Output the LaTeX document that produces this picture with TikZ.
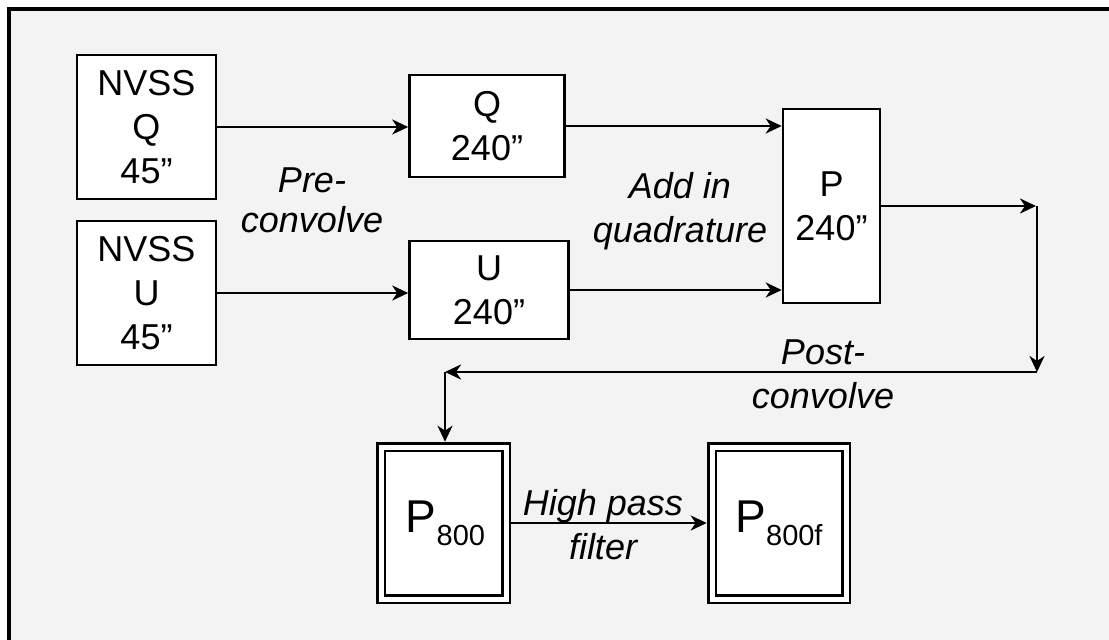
\documentclass[tikz,border=0pt]{standalone}
\usepackage{fontspec}
\setmainfont{Liberation Sans}
\usetikzlibrary{arrows.meta,calc}
\definecolor{bgc}{HTML}{F3F3F3}
\tikzset{
  box/.style={draw, fill=white, line width=2.6pt, inner sep=0pt, align=center,
    font=\fontsize{36}{44}\selectfont},
  dbox/.style={draw, line width=2.6pt, double=white, double distance=5pt, fill=white, inner sep=0pt},
  arr/.style={line width=2.8pt, -{Stealth[length=16pt, width=15pt, inset=5pt]}},
  lbl/.style={inner sep=0pt, align=center, font=\fontsize{36}{44}\selectfont\itshape},
}
\begin{document}
\begin{tikzpicture}[x=1pt, y=-1pt]
\useasboundingbox (0,0) rectangle (1109,640);
\fill[white] (0,0) rectangle (1109,640);
\fill[bgc] (9,9) rectangle (1109,640);
\draw[line width=3.2pt] (9,641) -- (9,9) -- (1110,9);

\node[box, minimum width=139pt, minimum height=144pt] (nq) at (146.5,127) {NVSS\\Q\\45”};
\node[box, minimum width=139pt, minimum height=144pt] (nu) at (146.5,293) {NVSS\\U\\45”};
\node[box, minimum width=155pt, minimum height=102pt] (q) at (487,126) {Q\\240”};
\node[box, minimum width=159pt, minimum height=98pt] (u) at (489,290) {U\\240”};
\node[box, minimum width=97pt, minimum height=194pt] (p) at (831.5,206) {P\\240”};

\node[dbox, minimum width=125pt, minimum height=152pt] (p8) at (443.5,523)
  {\hspace{4pt}\fontsize{46}{50}\selectfont P\raisebox{-13pt}{\fontsize{29}{32}\selectfont 800}};
\node[dbox, minimum width=134pt, minimum height=152pt] (p8f) at (779,523)
  {\fontsize{46}{50}\selectfont P\raisebox{-13pt}{\fontsize{29}{32}\selectfont 800f}};

\coordinate (c1) at (1037,206);
\coordinate (c2) at (1037,372);
\coordinate (c3) at (445,372);

\draw[arr] (nq.east) -- (nq.east -| q.west);
\draw[arr] (nu.east) -- (nu.east -| u.west);
\draw[arr] (q.east) -- (q.east -| p.west);
\draw[arr] (u.east) -- (u.east -| p.west);
\draw[arr, shorten >=1pt] (p.east) -- (c1);
\draw[arr] (c1) -- (c2);
\draw[arr] (c2) -- (c3);
\draw[arr, shorten >=4pt] (c3) -- (c3 |- p8.north);
\draw[arr, shorten <=4pt, shorten >=4pt] (p8.east) -- (p8f.west);

\node[lbl, font=\fontsize{36}{40}\selectfont\itshape] (pre) at (312,200) {Pre-\\convolve};
\node[lbl] (add) at (680,211) {Add in\\quadrature};
\node[lbl] (post) at (823,374) {Post-\\convolve};
\node[lbl] (hp) at (603,525) {High pass\\filter};
\end{tikzpicture}
\end{document}
